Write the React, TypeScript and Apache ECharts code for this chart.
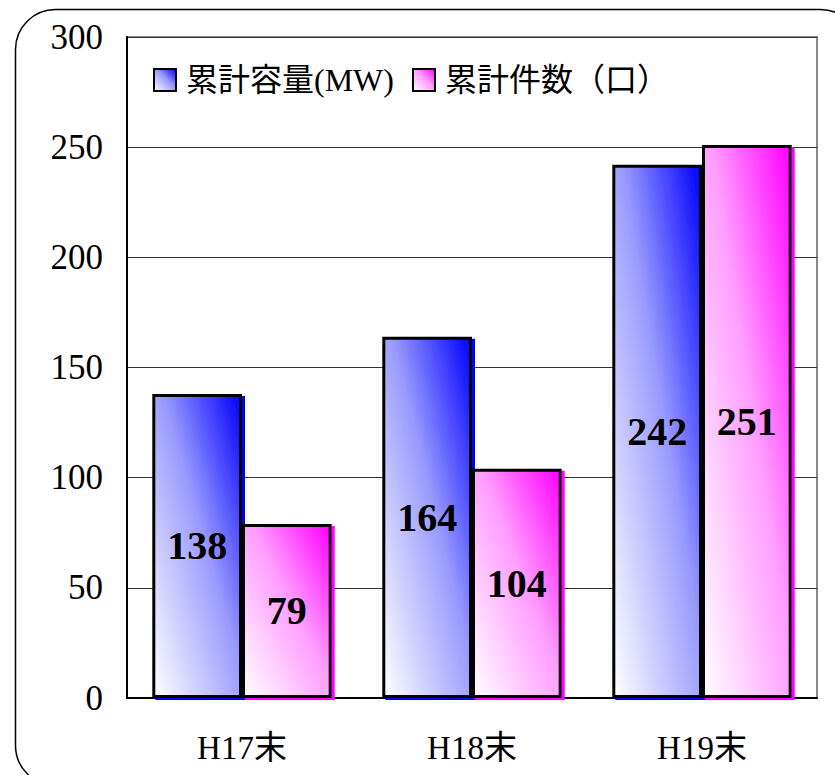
import React, { useEffect, useRef } from "react";
import * as echarts from "echarts";

const categories = ["H17末", "H18末", "H19末"];
const capacityMW = [138, 164, 242];
const countUnits = [79, 104, 251];
const seriesNames = ["累計容量(MW)", "累計件数（口）"];
const yTicks = { min: 0, max: 300, interval: 50 };

const SERIF = "'Liberation Serif', 'DejaVu Serif', 'Noto Sans CJK JP', serif";

function grad(c: string) {
  return new echarts.graphic.LinearGradient(0, 1, 1, 0, [
    { offset: 0, color: "#ffffff" },
    { offset: 0.55, color: c === "blue" ? "#9a9aff" : "#ff9cff" },
    { offset: 1, color: c === "blue" ? "#0000ff" : "#ff00ff" },
  ]);
}

export default function App() {
  const ref = useRef<HTMLDivElement>(null);
  useEffect(() => {
    if (!ref.current) return;
    const chart = echarts.init(ref.current, undefined, { renderer: "svg" });
    const label = {
      show: true,
      position: "inside",
      color: "#000",
      fontSize: 40,
      fontWeight: "bold",
      fontFamily: SERIF,
    };
    chart.setOption({
      animation: false,
      backgroundColor: "#fff",
      grid: {
        left: 127,
        top: 37,
        right: 18,
        bottom: 77,
        show: true,
        borderColor: "#888",
        borderWidth: 2,
      },
      legend: {
        left: 148,
        top: 59,
        icon: "rect",
        itemWidth: 22,
        itemHeight: 22,
        itemGap: 18,
        textStyle: {
          fontSize: 32,
          color: "#000",
          fontFamily: SERIF,
          padding: [0, 0, 0, 5],
        },
        data: seriesNames,
      },
      xAxis: {
        type: "category",
        data: categories,
        axisLine: { lineStyle: { color: "#000", width: 2 } },
        axisTick: { inside: true, length: 8, lineStyle: { color: "#333" } },
        axisLabel: { fontSize: 33, color: "#000", fontFamily: SERIF, margin: 33 },
      },
      yAxis: {
        type: "value",
        min: yTicks.min,
        max: yTicks.max,
        interval: yTicks.interval,
        axisLine: { show: true, lineStyle: { color: "#000", width: 2 } },
        axisTick: { show: false },
        axisLabel: { fontSize: 35, color: "#000", fontFamily: SERIF, margin: 24 },
        splitLine: { lineStyle: { color: "#333", width: 1 } },
      },
      series: [
        {
          name: seriesNames[0],
          type: "bar",
          data: capacityMW,
          barGap: "0%",
          barCategoryGap: "22%",
          itemStyle: {
            color: grad("blue"),
            borderColor: "#000",
            borderWidth: 3,
            shadowColor: "#0000ff",
            shadowOffsetX: 3,
            shadowOffsetY: 2,
            shadowBlur: 0,
          },
          label,
        },
        {
          name: seriesNames[1],
          type: "bar",
          data: countUnits,
          itemStyle: {
            color: grad("pink"),
            borderColor: "#000",
            borderWidth: 3,
            shadowColor: "#ff00ff",
            shadowOffsetX: 3,
            shadowOffsetY: 2,
            shadowBlur: 0,
          },
          label,
        },
      ],
      graphic: [
        {
          type: "rect",
          left: 13,
          top: 7,
          silent: true,
          shape: { x: 0, y: 0, width: 845, height: 776, r: 40 },
          style: { fill: "none", stroke: "#000", lineWidth: 1.5 },
        },
      ],
    });
    return () => chart.dispose();
  }, []);
  return (
    <div
      ref={ref}
      style={{ position: "fixed", left: 0, top: 0, width: 835, height: 775 }}
    />
  );
}
